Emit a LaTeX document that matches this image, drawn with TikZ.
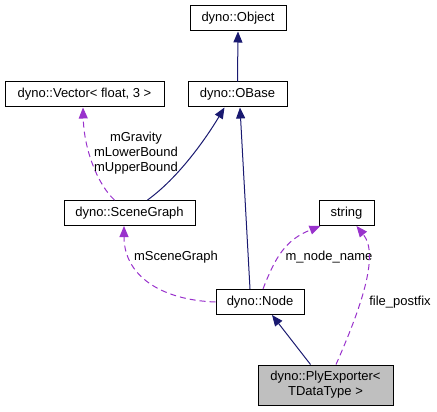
\documentclass[tikz,border=0pt]{standalone}
\usepackage{fontspec}
\setmainfont{Liberation Sans}
\usepackage{tikz}
\usetikzlibrary{arrows.meta,shapes,positioning}
\usepackage{xcolor}
\definecolor{dxnavy}{RGB}{25,25,112}
\definecolor{dxpurple}{RGB}{153,50,204}
\definecolor{dxgray}{RGB}{191,191,191}
\tikzstyle{cls} = [draw=black, line width=1pt, fill=white, minimum height=25pt, inner sep=0pt, align=center, font=\fontsize{13}{15}\selectfont]
\tikzstyle{inherit} = [line width=1pt, -{Triangle[length=11pt,width=9pt]}, color=dxnavy]
\tikzstyle{usage} = [line width=1pt, dash pattern=on 6pt off 4pt, -{Triangle[length=11pt,width=9pt]}, color=dxpurple]
\tikzstyle{lbl} = [align=center, font=\fontsize{13}{15}\selectfont]

\begin{document}
\begin{tikzpicture}[x=1pt, y=-1pt]
\useasboundingbox (0,0) rectangle (437,412);

% Classes
\node[cls, minimum width=96pt] (object) at (238,18.5) {dyno::Object};
\node[cls, minimum width=99pt] (obase) at (237.5,94.5) {dyno::OBase};
\node[cls, minimum width=159pt] (vector) at (84.5,94.5) {dyno::Vector< float, 3 >};
\node[cls, minimum width=131pt] (scenegraph) at (129.5,213) {dyno::SceneGraph};
\node[cls, minimum width=55pt] (string) at (346.5,213) {string};
\node[cls, minimum width=88pt] (node) at (260,302) {dyno::Node};
\node[cls, minimum width=135pt, minimum height=40pt, fill=dxgray] (plyexp) at (325.5,385) {dyno::PlyExporter<\\TDataType >};

% Inheritance
\draw[inherit] (obase.north) -- (object.south);
\draw[inherit] ([xshift=18pt]scenegraph.north) .. controls (178,178) and (205,140) .. ([xshift=-13pt]obase.south);
\draw[inherit] ([xshift=-10pt]node.north) -- ([xshift=2.5pt]obase.south);
\draw[inherit] ([xshift=-15pt]plyexp.north) -- ([xshift=12pt]node.south);

% Members
\draw[usage] ([xshift=-15pt]scenegraph.north) .. controls (98,185) and (84,150) .. ([xshift=-1.5pt]vector.south);
\node[lbl] (lgrav) at (136,153) {mGravity\\mLowerBound\\mUpperBound};
\draw[usage] (node.west) .. controls (160,300) and (124,275) .. ([xshift=-5.5pt]scenegraph.south);
\node[lbl] (lscene) at (176,257) {mSceneGraph};
\draw[usage] ([xshift=3pt]node.north) .. controls (275,258) and (285,240) .. ([xshift=-26pt]string.south);
\node[lbl] (lname) at (329,257) {m\_node\_name};
\draw[usage] ([xshift=10.5pt]plyexp.north) .. controls (360,310) and (380,255) .. ([xshift=10pt]string.south);
\node[lbl] (lpost) at (400,302) {file\_postfix};
\end{tikzpicture}
\end{document}
